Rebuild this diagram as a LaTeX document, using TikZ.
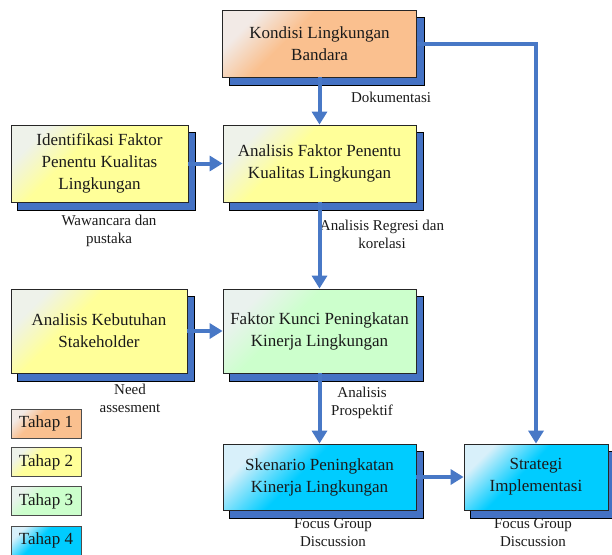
\documentclass[tikz,border=0pt]{standalone}
\usepackage{fontspec}
\setmainfont{Liberation Serif}
\usetikzlibrary{arrows.meta,backgrounds}
\definecolor{orMain}{HTML}{FAC08F}
\definecolor{orLight}{HTML}{F2EAE6}
\definecolor{yeMain}{HTML}{FFFF99}
\definecolor{yeLight}{HTML}{EEF2EA}
\definecolor{grMain}{HTML}{CCFFCC}
\definecolor{grLight}{HTML}{EAF2EE}
\definecolor{cyMain}{HTML}{00CCFF}
\definecolor{cyLight}{HTML}{D8F0FA}
\definecolor{shBlue}{HTML}{4472C4}
\definecolor{arBlue}{HTML}{4878C6}
\definecolor{txt}{HTML}{1A1A1A}
\pgfdeclareverticalshading{shor}{100bp}{color(0bp)=(orMain); color(60bp)=(orMain); color(75bp)=(orLight); color(100bp)=(orLight)}
\pgfdeclareverticalshading{shye}{100bp}{color(0bp)=(yeMain); color(60bp)=(yeMain); color(75bp)=(yeLight); color(100bp)=(yeLight)}
\pgfdeclareverticalshading{shgr}{100bp}{color(0bp)=(grMain); color(60bp)=(grMain); color(75bp)=(grLight); color(100bp)=(grLight)}
\pgfdeclareverticalshading{shcy}{100bp}{color(0bp)=(cyMain); color(56bp)=(cyMain); color(75bp)=(cyLight); color(100bp)=(cyLight)}
\tikzset{
  box/.style={draw=black!85, line width=0.8pt, inner sep=0pt, align=center,
    text=txt, font=\fontsize{17}{22}\selectfont},
  legbox/.style={draw=black!70, line width=0.7pt, inner sep=0pt, align=center,
    text=txt, font=\fontsize{17}{20}\selectfont, minimum width=70pt, minimum height=29pt},
  fillor/.style={shade, shading=shor, shading angle=45},
  fillye/.style={shade, shading=shye, shading angle=45},
  fillgr/.style={shade, shading=shgr, shading angle=45},
  fillcy/.style={shade, shading=shcy, shading angle=45},
  shad/.style={fill=shBlue, draw=black, line width=0.8pt},
  lbl/.style={align=center, text=txt, font=\fontsize{15}{18}\selectfont, inner sep=0pt},
  arr/.style={draw=arBlue, line width=4pt, -{Triangle[width=15pt,length=13pt]}},
}
\begin{document}
\begin{tikzpicture}[x=1pt,y=-1pt]
\useasboundingbox (0,0) rectangle (612,554);
% boxes
\node[box, fillor, minimum width=194pt, minimum height=67pt] (K) at (319.5,43.5) {Kondisi Lingkungan\\Bandara};
\node[box, fillye, minimum width=193pt, minimum height=77pt] (A) at (319.5,163.5) {Analisis Faktor Penentu\\Kualitas Lingkungan};
\node[box, fillye, minimum width=177pt, minimum height=77pt] (I) at (99.5,163.5) {Identifikasi Faktor\\Penentu Kualitas\\Lingkungan};
\node[box, fillgr, minimum width=193pt, minimum height=84pt] (F) at (319.5,331) {Faktor Kunci Peningkatan\\Kinerja Lingkungan};
\node[box, fillye, minimum width=176pt, minimum height=84pt] (N) at (99,331) {Analisis Kebutuhan\\Stakeholder};
\node[box, fillcy, minimum width=193pt, minimum height=66pt] (Sk) at (319.5,477) {Skenario Peningkatan\\Kinerja Lingkungan};
\node[box, fillcy, minimum width=144pt, minimum height=66pt] (St) at (536,477) {Strategi\\Implementasi};
% shadows
\begin{scope}[on background layer]
\foreach \b in {K,A,I,F,N,Sk,St}{
  \draw[shad] ([shift={(7,8)}]\b.north west) rectangle ([shift={(7,8)}]\b.south east);
}
\end{scope}
% legend
\node[legbox, fillor] (L1) at (46,423.5) {Tahap 1};
\node[legbox, fillye] (L2) at (46,462) {Tahap 2};
\node[legbox, fillgr] (L3) at (46,501) {Tahap 3};
\node[legbox, fillcy] (L4) at (46,540.5) {Tahap 4};
% labels
\node[lbl] (l1) at (391,97) {Dokumentasi};
\node[lbl] (l2) at (109,231) {Wawancara dan\\pustaka};
\node[lbl] (l3) at (382,234) {Analisis Regresi dan\\korelasi};
\node[lbl] (l4) at (130,398) {Need\\assesment};
\node[lbl] (l5) at (362,403) {Analisis\\Prospektif};
\node[lbl] (l6) at (333,533) {Focus Group\\Discussion};
\node[lbl] (l7) at (533,533) {Focus Group\\Discussion};
% arrows
\draw[arr] (K.south) -- (A.north);
\draw[arr] (K.east) -| (St.north);
\draw[arr] (I.east) -- (A.west);
\draw[arr] (A.south) -- (F.north);
\draw[arr] (N.east) -- (F.west);
\draw[arr] (F.south) -- (Sk.north);
\draw[arr] (Sk.east) -- (St.west);
\end{tikzpicture}
\end{document}
